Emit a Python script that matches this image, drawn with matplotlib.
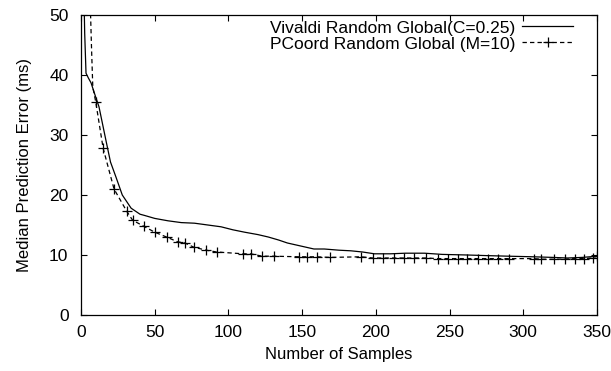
import matplotlib
matplotlib.use("Agg")
import matplotlib.pyplot as plt

# Data
viv_x = [1.5, 2.5, 3.4, 5, 6.8, 10, 12.2, 17, 20, 23.7, 28, 34, 40, 43, 50, 59, 68, 77, 86, 95,
         103, 111, 120, 127, 134, 140, 149, 158, 165, 175, 183, 191, 199, 210, 220, 233, 245,
         262, 275, 290, 307, 320, 330, 340, 350]
viv_y = [60, 47, 40.3, 39.5, 38.7, 36.3, 34.7, 29, 25.5, 23, 20, 17.8, 16.8, 16.6, 16.1, 15.7,
         15.4, 15.3, 15.0, 14.7, 14.2, 13.8, 13.4, 13.0, 12.5, 12.0, 11.5, 11.0, 11.0, 10.8,
         10.7, 10.5, 10.2, 10.2, 10.3, 10.3, 10.1, 10.0, 9.9, 9.8, 9.7, 9.6, 9.5, 9.6, 9.8]

pc_x = [5.8, 6.5, 7.2, 8, 10, 15, 22.4, 31, 35, 42.5, 50, 58, 65.5, 70.5, 76.5, 85, 92, 110,
        115, 123, 131, 148, 153, 160, 169, 190, 198, 205, 212, 219, 226, 234, 242, 249, 256,
        262, 269, 276, 283, 290, 307, 312, 321, 328, 335, 341, 347, 350]
pc_y = [60, 50, 44, 38, 35.5, 27.8, 21, 17.3, 15.8, 14.8, 13.8, 13.0, 12.2, 12.0, 11.3, 10.8,
        10.5, 10.2, 10.2, 9.8, 9.8, 9.7, 9.7, 9.7, 9.6, 9.7, 9.5, 9.5, 9.5, 9.5, 9.5, 9.5,
        9.4, 9.4, 9.4, 9.4, 9.4, 9.4, 9.4, 9.4, 9.4, 9.3, 9.3, 9.3, 9.4, 9.4, 9.5, 9.8]

x_ticks = [0, 50, 100, 150, 200, 250, 300, 350]
y_ticks = [0, 10, 20, 30, 40, 50]

labels = ["Vivaldi Random Global(C=0.25)", "PCoord Random Global (M=10)"]

plt.rcParams['font.family'] = ['Liberation Sans', 'DejaVu Sans']

fig = plt.figure(figsize=(6.11, 3.71), dpi=100)
ax = fig.add_axes([81/611, 1 - 315/371, 516/611, 300/371])

ax.plot(viv_x, viv_y, color='black', lw=0.9, label=labels[0])
ax.plot(pc_x, pc_y, color='black', lw=0.9, linestyle=(0, (3.5, 2.5)), marker='+',
        markersize=7, markeredgewidth=0.9, markevery=list(range(4, len(pc_x))),
        label=labels[1])

ax.set_xlim(0, 350)
ax.set_ylim(0, 50)
ax.set_xticks(x_ticks)
ax.set_yticks(y_ticks)
ax.tick_params(direction='in', length=4.5, width=0.8, top=True, right=True,
               labelsize=12.5, colors='black')
ax.tick_params(axis='y', pad=9)
ax.tick_params(axis='x', pad=7)
for s in ax.spines.values():
    s.set_linewidth(0.9)

ax.set_xlabel("Number of Samples", fontsize=12, labelpad=5)
ax.set_ylabel("Median Prediction Error (ms)", fontsize=12, labelpad=12)

leg = ax.legend(loc='upper right', bbox_to_anchor=(0.953, 0.982), frameon=False,
                markerfirst=False, handlelength=2.9, numpoints=1, fontsize=12.5,
                borderpad=0, borderaxespad=0, labelspacing=0.05, handletextpad=0.4)

fig.savefig("out.png", dpi=100)
